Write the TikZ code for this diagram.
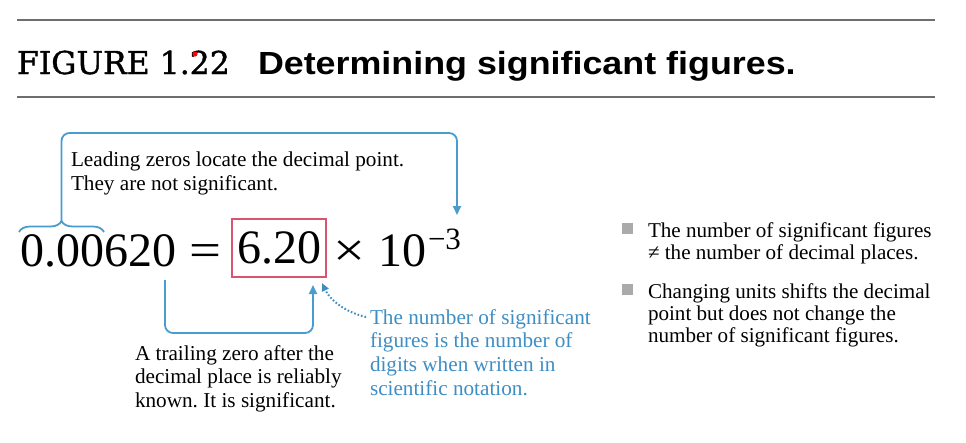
\documentclass[tikz,border=0pt]{standalone}
\usepackage{fontspec}
\setmainfont{Liberation Serif}
\newfontfamily\figfont[FakeBold=1.2]{DejaVu Serif}
\newfontfamily\capfont[FakeStretch=1.12]{Liberation Sans}
\usetikzlibrary{decorations.pathreplacing,arrows.meta}
\definecolor{lblue}{HTML}{4A9CCF}
\definecolor{tblue}{HTML}{3E8EC4}
\definecolor{boxred}{HTML}{D9546E}
\definecolor{rulegray}{HTML}{6E6E6E}
\definecolor{bulgray}{HTML}{AAAAAA}
\newcommand\mylines[1]{\begin{tabular}[t]{@{}l@{}}#1\end{tabular}}
\frenchspacing
\begin{document}
\begin{tikzpicture}[x=1pt,y=1pt,
  txt/.style={inner sep=0pt, outer sep=0pt, anchor=base west},
  conn/.style={draw=lblue, line width=1.8pt, rounded corners=8pt},
  tip/.style={-{Triangle[length=9pt,width=8pt]}},
  bullet/.style={fill=bulgray, minimum size=11pt, inner sep=0pt, outer sep=0pt}]
\path[use as bounding box, fill=white] (0,0) rectangle (966,-442);
% rules
\draw[rulegray, line width=2.6pt] (17,-20) -- (935,-20);
\draw[rulegray, line width=2.6pt] (17,-97) -- (935,-97);
% title
\node[txt] (fig) at (17,-74) {\fontsize{31.5}{36}\selectfont\figfont FIGURE 1.22};
\fill[red] (195,-54) circle (2.6pt);
\node[txt] (cap) at (258,-74) {\fontsize{32}{36}\selectfont\capfont\bfseries Determining significant figures.};
% equation
\node[txt] (num) at (20,-266) {\fontsize{48}{50}\selectfont 0.00620};
\node[txt] (eq) at (189,-266) {\fontsize{48}{50}\selectfont\scalebox{1.18}[1]{=}};
\node[draw=boxred, line width=1.4pt, minimum width=94pt, minimum height=58pt, inner sep=0pt] (box) at (279,-248) {\fontsize{48}{50}\selectfont 6.20};
\node[txt] (times) at (333,-266) {\fontsize{48}{50}\selectfont\scalebox{1.18}[1]{×}};
\node[txt] (ten) at (378,-266) {\fontsize{48}{50}\selectfont 10};
\node[txt] (exp) at (428,-249) {\fontsize{31}{32}\selectfont −3};
% brace and top connector
\draw[lblue, line width=1.8pt, decorate, decoration={brace, amplitude=11pt}] (19,-232) -- (104,-232);
\coordinate (bt) at (61.5,-221);
\coordinate (topend) at (457,-215);
\draw[conn, tip] (bt) -- (61.5,-133) -- (457,-133) -- (topend);
\node[txt] (lead) at (71,-166) {\fontsize{21.2}{24.5}\selectfont\mylines{Leading zeros locate the decimal point.\\They are not significant.}};
% lower connector
\coordinate (ls) at (165,-280);
\coordinate (le) at (313,-285);
\draw[conn, tip] (ls) -- (165,-333) -- (313,-333) -- (le);
\node[txt] (trail) at (135,-360) {\fontsize{21.2}{23.5}\selectfont\mylines{A trailing zero after the\\decimal place is reliably\\known. It is significant.}};
% blue note
\node[txt, text=tblue] (note) at (370,-324) {\fontsize{21.2}{23.7}\selectfont\mylines{The number of significant\\figures is the number of\\digits when written in\\scientific notation.}};
\coordinate (dend) at (322,-283);
\draw[tblue, line width=2pt, dash pattern=on 1.6pt off 2pt, -{Triangle[length=8pt,width=7pt]}] (366,-317) .. controls (345,-312) and (330,-300) .. (dend);
% bullets
\node[bullet] (b1) at (627,-228) {};
\node[bullet] (b2) at (627,-289) {};
\node[txt] (t1) at (648,-237) {\fontsize{21.1}{22}\selectfont\mylines{The number of significant figures\\≠ the number of decimal places.}};
\node[txt] (t2) at (648,-298) {\fontsize{21.1}{22.2}\selectfont\mylines{Changing units shifts the decimal\\point but does not change the\\number of significant figures.}};
\end{tikzpicture}
\end{document}
